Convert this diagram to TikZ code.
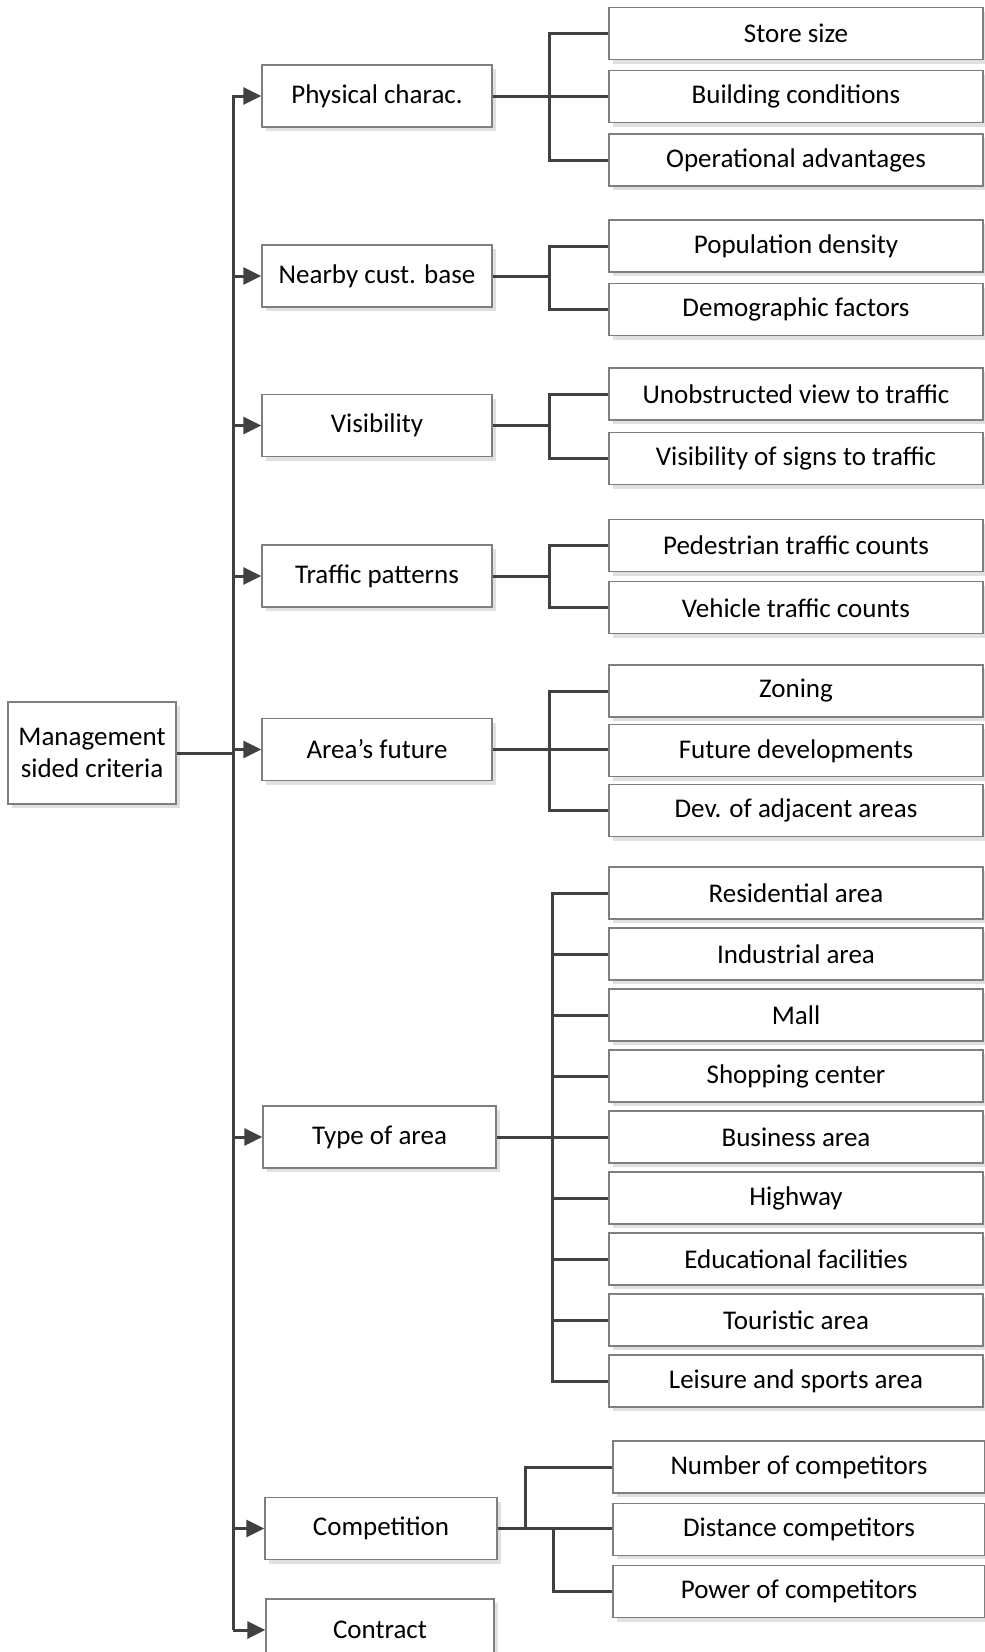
\documentclass[tikz,border=0pt]{standalone}
\usepackage{fontspec}
\setmainfont{Carlito}
\usetikzlibrary{arrows.meta,shadows,positioning}
\definecolor{linegray}{HTML}{404040}
\definecolor{boxgray}{HTML}{7F7F7F}

\begin{document}
\begin{tikzpicture}[x=1pt,y=-1pt,
    box/.style={draw=boxgray, line width=1.3pt, fill=white, inner sep=0pt,
      general shadow={fill=black!12, shadow xshift=4pt, shadow yshift=-4pt},
      font=\fontsize{27}{32}\selectfont, align=center},
    crit/.style={box, minimum width=230pt, minimum height=62pt},
    sub/.style={box, minimum width=374pt, minimum height=52pt},
    conn/.style={draw=linegray, line width=3pt},
    arr/.style={conn, -{Triangle[length=18pt,width=17pt]}}]
  \useasboundingbox (0,0) rectangle (985,1652);

  % root and criteria
  \node[box, minimum width=168pt, minimum height=102pt] (root) at (92,753) {Management\\sided criteria};
  \node[crit] (phys) at (377,96) {Physical charac.};
  \node[crit] (cust) at (377,276) {Nearby cust. base};
  \node[crit] (vis) at (377,425.5) {Visibility};
  \node[crit] (traf) at (377,576) {Traffic patterns};
  \node[crit] (fut) at (377,749.5) {Area’s future};
  \node[crit, minimum width=233pt] (type) at (379.5,1137) {Type of area};
  \node[crit, minimum width=232pt] (comp) at (381,1528.5) {Competition};
  \node[crit, minimum width=228pt] (contr) at (380,1630) {Contract};

  % sub-criteria
  \node[sub] (size) at (796,33.5) {Store size};
  \node[sub, below=10pt of size] (cond) {Building conditions};
  \node[sub, below=10pt of cond] (oper) {Operational advantages};

  \node[sub] (pop) at (796,246) {Population density};
  \node[sub, below=10.5pt of pop] (demo) {Demographic factors};

  \node[sub] (view) at (796,394) {Unobstructed view to traffic};
  \node[sub, below=11.5pt of view] (sign) {Visibility of signs to traffic};

  \node[sub] (ped) at (796,545.5) {Pedestrian traffic counts};
  \node[sub, below=9pt of ped] (veh) {Vehicle traffic counts};

  \node[sub] (zon) at (796,691) {Zoning};
  \node[sub, below=6.5pt of zon] (dev) {Future developments};
  \node[sub, below=6.5pt of dev] (adj) {Dev. of adjacent areas};

  \node[sub] (res) at (796,893) {Residential area};
  \node[sub, below=7.7pt of res] (ind) {Industrial area};
  \node[sub, below=7.7pt of ind] (mall) {Mall};
  \node[sub, below=7.7pt of mall] (shop) {Shopping center};
  \node[sub, below=7.7pt of shop] (bus) {Business area};
  \node[sub, below=7.7pt of bus] (hwy) {Highway};
  \node[sub, below=7.7pt of hwy] (edu) {Educational facilities};
  \node[sub, below=7.7pt of edu] (tour) {Touristic area};
  \node[sub, below=7.7pt of tour] (leis) {Leisure and sports area};

  \node[sub, minimum width=372pt] (num) at (799,1467) {Number of competitors};
  \node[sub, minimum width=372pt, below=9pt of num] (dist) {Distance competitors};
  \node[sub, minimum width=372pt, below=9pt of dist] (pow) {Power of competitors};

  % trunk
  \coordinate (trunk) at (233,0);
  \draw[arr] (contr.west -| trunk) |- (phys.west);
  \draw[conn] (root.east) -- (root.east -| trunk);
  \draw[arr] (cust.west -| trunk) -- (cust.west);
  \draw[arr] (vis.west -| trunk) -- (vis.west);
  \draw[arr] (traf.west -| trunk) -- (traf.west);
  \draw[arr] (fut.west -| trunk) -- (fut.west);
  \draw[arr] (type.west -| trunk) -- (type.west);
  \draw[arr] (comp.west -| trunk) -- (comp.west);
  \draw[arr] (contr.west -| trunk) -- (contr.west);

  % branches
  \draw[conn] (phys.east) -- ++(57,0) coordinate (pb);
  \draw[conn] (size.west) -| (pb) |- (oper.west);
  \draw[conn] (pb) -- (pb -| cond.west);

  \draw[conn] (cust.east) -- ++(57,0) coordinate (cb);
  \draw[conn] (pop.west) -| (cb) |- (demo.west);

  \draw[conn] (vis.east) -- ++(57,0) coordinate (vb);
  \draw[conn] (view.west) -| (vb) |- (sign.west);

  \draw[conn] (traf.east) -- ++(57,0) coordinate (tb);
  \draw[conn] (ped.west) -| (tb) |- (veh.west);

  \draw[conn] (fut.east) -- ++(57,0) coordinate (fb);
  \draw[conn] (zon.west) -| (fb) |- (adj.west);
  \draw[conn] (fb) -- (fb -| dev.west);

  \draw[conn] (type.east) -- ++(56,0) coordinate (yb);
  \draw[conn] (res.west) -| (yb) |- (leis.west);
  \draw[conn] (yb |- ind.west) -- (ind.west);
  \draw[conn] (yb |- mall.west) -- (mall.west);
  \draw[conn] (yb |- shop.west) -- (shop.west);
  \draw[conn] (yb) -- (yb -| bus.west);
  \draw[conn] (yb |- hwy.west) -- (hwy.west);
  \draw[conn] (yb |- edu.west) -- (edu.west);
  \draw[conn] (yb |- tour.west) -- (tour.west);

  \draw[conn] (comp.east) -- ++(28,0) coordinate (kb);
  \draw[conn] (num.west) -| (kb) -- (kb -| dist.west);
  \draw[conn] (kb) ++(28,0) coordinate (kb2) |- (pow.west);
\end{tikzpicture}
\end{document}
